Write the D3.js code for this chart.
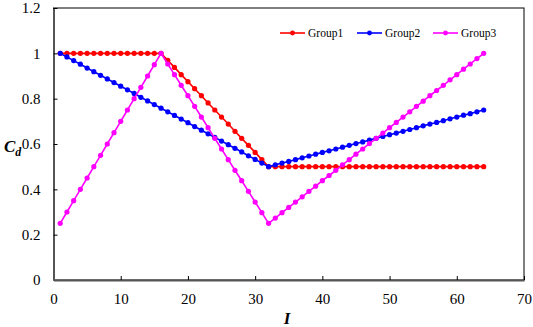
<!DOCTYPE html>
<html><head><meta charset="utf-8">
<script src="https://cdn.jsdelivr.net/npm/d3@7"></script>
<style>body{margin:0;background:#fff}svg{display:block}</style>
</head><body>
<svg id="c" width="533" height="327"></svg>
<script>
const xValues = d3.range(1, 65);
const group1 = [1,1,1,1,1,1,1,1,1,1,1,1,1,1,1,1,
  0.969,0.938,0.906,0.875,0.844,0.813,0.781,0.75,0.719,0.688,0.656,0.625,0.594,0.563,0.531,0.5,
  0.5,0.5,0.5,0.5,0.5,0.5,0.5,0.5,0.5,0.5,0.5,0.5,0.5,0.5,0.5,0.5,
  0.5,0.5,0.5,0.5,0.5,0.5,0.5,0.5,0.5,0.5,0.5,0.5,0.5,0.5,0.5,0.5];
const group2 = [1,0.984,0.968,0.952,0.935,0.919,0.903,0.887,0.871,0.855,0.839,0.823,0.806,0.790,0.774,0.758,
  0.742,0.726,0.710,0.694,0.677,0.661,0.645,0.629,0.613,0.597,0.581,0.565,0.548,0.532,0.516,0.5,
  0.508,0.516,0.523,0.531,0.539,0.547,0.555,0.563,0.570,0.578,0.586,0.594,0.602,0.609,0.617,0.625,
  0.633,0.641,0.648,0.656,0.664,0.672,0.680,0.688,0.695,0.703,0.711,0.719,0.727,0.734,0.742,0.75];
const group3 = [0.25,0.3,0.35,0.4,0.45,0.5,0.55,0.6,0.65,0.7,0.75,0.8,0.85,0.9,0.95,1,
  0.953,0.906,0.859,0.813,0.766,0.719,0.672,0.625,0.578,0.531,0.484,0.438,0.391,0.344,0.297,0.25,
  0.273,0.297,0.320,0.344,0.367,0.391,0.414,0.438,0.461,0.484,0.508,0.531,0.555,0.578,0.602,0.625,
  0.648,0.672,0.695,0.719,0.742,0.766,0.789,0.813,0.836,0.859,0.883,0.906,0.930,0.953,0.977,1];
const seriesNames = ["Group1","Group2","Group3"];
const seriesColors = ["#ff0000","#0000ff","#ff00ff"];
const xTicks = [0,10,20,30,40,50,60,70];
const yTicks = [0,0.2,0.4,0.6,0.8,1,1.2];

const svg = d3.select("#c");
const L = 53.5, R = 524, T = 8, B = 280;
const x = d3.scaleLinear().domain([0,70]).range([L,R]);
const y = d3.scaleLinear().domain([0,1.2]).range([B,T]);
const font = "Liberation Serif, Times New Roman, serif";

svg.append("rect").attr("x",L).attr("y",T).attr("width",R-L).attr("height",B-T)
  .attr("fill","none").attr("stroke","#000").attr("stroke-width",1);

const xAxis = svg.append("g").attr("transform",`translate(0,${B})`)
  .call(d3.axisBottom(x).tickValues(xTicks).tickSizeInner(-4).tickSizeOuter(0).tickPadding(13).tickFormat(d3.format("d")));
const yAxis = svg.append("g").attr("transform",`translate(${L},0)`)
  .call(d3.axisLeft(y).tickValues(yTicks).tickSizeInner(-4).tickSizeOuter(0).tickPadding(13).tickFormat(d=>String(d)));
[xAxis,yAxis].forEach(g=>{
  g.attr("font-family",font).attr("font-size",15);
  g.select(".domain").attr("stroke","#555").attr("stroke-width",2);
  g.selectAll(".tick line").attr("stroke","#000").attr("stroke-width",1);
  g.selectAll(".tick text").style("font-family",font).attr("font-size",15).attr("fill","#000");
});
yAxis.selectAll(".tick").filter(d=>d===0).select("line").remove();

const data = [group1, group2, group3];
const line = d3.line().x((d,i)=>x(xValues[i])).y(d=>y(d));
data.forEach((s,k)=>{
  svg.append("path").datum(s).attr("d",line).attr("fill","none")
    .attr("stroke",seriesColors[k]).attr("stroke-width",1.6);
  svg.append("g").selectAll("circle").data(s).join("circle")
    .attr("cx",(d,i)=>x(xValues[i])).attr("cy",d=>y(d)).attr("r",2.6).attr("fill",seriesColors[k]);
});

const legX = [280, 357, 433];
const legY = 33;
seriesNames.forEach((n,k)=>{
  svg.append("line").attr("x1",legX[k]).attr("x2",legX[k]+25).attr("y1",legY).attr("y2",legY)
    .attr("stroke",seriesColors[k]).attr("stroke-width",1.6);
  svg.append("circle").attr("cx",legX[k]+12.5).attr("cy",legY).attr("r",2.4).attr("fill",seriesColors[k]);
  svg.append("text").attr("x",legX[k]+28).attr("y",legY+4).style("font-family",font).attr("font-size",11.5)
    .attr("fill","#000").text(n);
});

const yt = svg.append("text").attr("x",4).attr("y",152).style("font-family",font).attr("font-size",17)
  .attr("font-style","italic").attr("font-weight","bold").attr("fill","#000");
yt.append("tspan").text("C");
yt.append("tspan").attr("dy",4).attr("font-size",12).text("d");
svg.append("text").attr("x",287).attr("y",324).attr("text-anchor","middle").style("font-family",font)
  .attr("font-size",17).attr("font-style","italic").attr("font-weight","bold").attr("fill","#000").text("I");
</script>
</body></html>
